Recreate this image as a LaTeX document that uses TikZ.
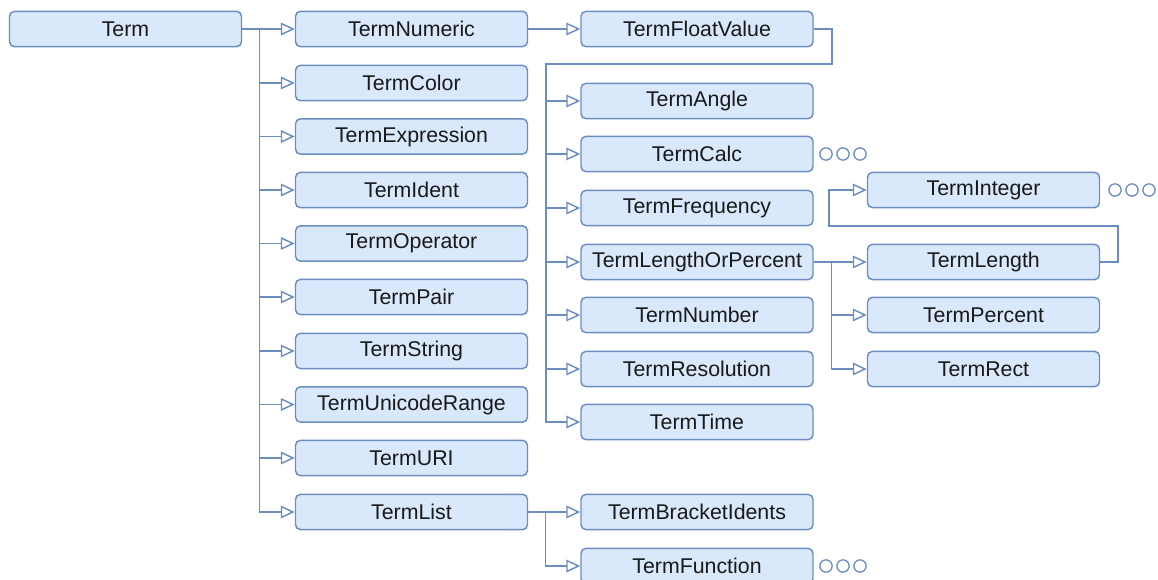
\documentclass[tikz,border=0pt]{standalone}
\usepackage{fontspec}
\setmainfont{Liberation Sans}
\usetikzlibrary{arrows.meta}

\definecolor{boxfill}{HTML}{DAE8FC}
\definecolor{boxline}{HTML}{6C8EBF}

\tikzset{every picture/.style={line width=0.75pt}}
\tikzset{
	termbox/.style={draw=boxline, fill=boxfill, line width=1.1pt, rounded corners=3.75pt,
		minimum width=174pt, minimum height=26.5pt, inner sep=0pt,
		font=\fontsize{16}{18}\selectfont, text=black!90},
	inherit/.style={draw=boxline, line width=1.1pt,
		-{Triangle[open,length=10.5pt,width=9.5pt,fill=white]}},
	more/.style={draw=boxline, line width=1pt, fill=white}
}

\begin{document}
\begin{tikzpicture}[x=0.75pt,y=0.75pt,yscale=-1,xscale=1]
	\path[use as bounding box] (0,0) rectangle (1158,580);

	% Root
	\node[termbox] (term) at (125.5,29) {Term};

	% First column
	\node[termbox] (numeric) at (411.5,29) {TermNumeric};
	\node[termbox] (color) at (411.5,83) {TermColor};
	\node[termbox] (expression) at (411.5,136.5) {TermExpression};
	\node[termbox] (ident) at (411.5,190) {TermIdent};
	\node[termbox] (operator) at (411.5,243.5) {TermOperator};
	\node[termbox] (pair) at (411.5,297) {TermPair};
	\node[termbox] (string) at (411.5,351) {TermString};
	\node[termbox] (unicoderange) at (411.5,404.5) {TermUnicodeRange};
	\node[termbox] (uri) at (411.5,458) {TermURI};
	\node[termbox] (list) at (411.5,512) {TermList};

	% Second column
	\node[termbox] (floatvalue) at (697,29) {TermFloatValue};
	\node[termbox] (angle) at (697,101) {TermAngle};
	\node[termbox] (calc) at (697,154) {TermCalc};
	\node[termbox] (frequency) at (697,208) {TermFrequency};
	\node[termbox] (lengthorpercent) at (697,262) {TermLengthOrPercent};
	\node[termbox] (number) at (697,315) {TermNumber};
	\node[termbox] (resolution) at (697,369) {TermResolution};
	\node[termbox] (time) at (697,422) {TermTime};
	\node[termbox] (bracketidents) at (697,512) {TermBracketIdents};
	\node[termbox] (function) at (697,566) {TermFunction};

	% Third column
	\node[termbox] (integer) at (983.5,190) {TermInteger};
	\node[termbox] (length) at (983.5,262) {TermLength};
	\node[termbox] (percent) at (983.5,315) {TermPercent};
	\node[termbox] (rect) at (983.5,369) {TermRect};

	% Term -> first column
	\draw[inherit] (term.east) -- (numeric.west);
	\draw[inherit] (term.east) -- ++(17,0) |- (color.west);
	\draw[inherit] (term.east) -- ++(17,0) |- (expression.west);
	\draw[inherit] (term.east) -- ++(17,0) |- (ident.west);
	\draw[inherit] (term.east) -- ++(17,0) |- (operator.west);
	\draw[inherit] (term.east) -- ++(17,0) |- (pair.west);
	\draw[inherit] (term.east) -- ++(17,0) |- (string.west);
	\draw[inherit] (term.east) -- ++(17,0) |- (unicoderange.west);
	\draw[inherit] (term.east) -- ++(17,0) |- (uri.west);
	\draw[inherit] (term.east) -- ++(17,0) |- (list.west);

	% TermNumeric -> TermFloatValue
	\draw[inherit] (numeric.east) -- (floatvalue.west);

	% TermFloatValue -> second column
	\coordinate (fvdrop) at (832,64);
	\coordinate (fvturn) at (546,64);
	\draw[inherit] (floatvalue.east) -| (fvdrop) -- (fvturn) |- (angle.west);
	\draw[inherit] (fvturn) |- (calc.west);
	\draw[inherit] (fvturn) |- (frequency.west);
	\draw[inherit] (fvturn) |- (lengthorpercent.west);
	\draw[inherit] (fvturn) |- (number.west);
	\draw[inherit] (fvturn) |- (resolution.west);
	\draw[inherit] (fvturn) |- (time.west);

	% TermLengthOrPercent -> third column
	\draw[inherit] (lengthorpercent.east) -- (length.west);
	\draw[inherit] (lengthorpercent.east) -- ++(18,0) |- (percent.west);
	\draw[inherit] (lengthorpercent.east) -- ++(18,0) |- (rect.west);

	% TermLength -> TermInteger
	\coordinate (lenup) at (1118,226);
	\coordinate (lenleft) at (829,226);
	\draw[inherit] (length.east) -| (lenup) -- (lenleft) |- (integer.west);

	% TermList -> second column
	\draw[inherit] (list.east) -- (bracketidents.west);
	\draw[inherit] (list.east) -- ++(17,0) |- (function.west);

	% more subclasses
	\draw[more] (826,154) circle (4.6pt) (843,154) circle (4.6pt) (860,154) circle (4.6pt);
	\draw[more] (1115,190) circle (4.6pt) (1132,190) circle (4.6pt) (1149,190) circle (4.6pt);
	\draw[more] (826,566) circle (4.6pt) (843,566) circle (4.6pt) (860,566) circle (4.6pt);

\end{tikzpicture}
\end{document}
